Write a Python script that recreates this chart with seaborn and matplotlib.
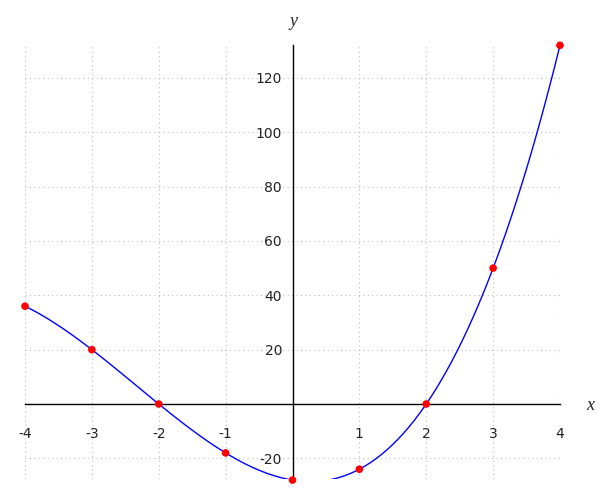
import matplotlib
matplotlib.use("Agg")
import matplotlib.pyplot as plt
import seaborn as sns
import pandas as pd

# data
x_vals = [-4, -3, -2, -1, 0, 1, 2, 3, 4]
y_vals = [36, 20, 0, -18, -28, -24, 0, 50, 132]
x_ticks = [-4, -3, -2, -1, 1, 2, 3, 4]
y_ticks = [-20, 20, 40, 60, 80, 100, 120]

df = pd.DataFrame({"x": x_vals, "y": y_vals})

sns.set_style("white")
plt.rcParams["font.family"] = ["DejaVu Sans"]

fig = plt.figure(figsize=(6, 5), dpi=100)
top_px, bot_px = 45.3, 479.0
ax = fig.add_axes([25 / 600, 1 - bot_px / 500, 535 / 600, (bot_px - top_px) / 500])

# grid
for xv in x_ticks:
    ax.axvline(xv, color="#bdbdbd", lw=0.8, ls=(0, (1, 3)), zorder=0)
for yv in y_ticks:
    ax.axhline(yv, color="#bdbdbd", lw=0.8, ls=(0, (1, 3)), zorder=0)

# fitted curve (exact cubic through the points) and points
sns.regplot(data=df, x="x", y="y", order=3, ci=None, scatter=False, truncate=True,
            line_kws={"color": "#0000ff", "lw": 1.0, "zorder": 2}, ax=ax)
sns.scatterplot(data=df, x="x", y="y", color="#ff0000", s=30, edgecolor="none",
                zorder=3, clip_on=False, ax=ax)

ax.set_xlim(-4, 4)
ax.set_ylim(-27.6, 132)

# spines through origin
for s in ["top", "right"]:
    ax.spines[s].set_visible(False)
ax.spines["left"].set_position(("data", 0))
ax.spines["bottom"].set_position(("data", 0))
for s in ["left", "bottom"]:
    ax.spines[s].set_color("black")
    ax.spines[s].set_linewidth(1.0)

ax.set_xticks(x_ticks)
ax.set_xticklabels([str(v) for v in x_ticks])
ax.set_yticks(y_ticks)
ax.set_yticklabels([str(v) for v in y_ticks])
ax.tick_params(axis="x", direction="out", length=5.5, width=1, pad=11,
               labelsize=10, colors="black")
ax.tick_params(axis="y", direction="out", length=5.5, width=1, pad=2,
               labelsize=10, colors="black")
ax.tick_params(axis="x", labelcolor="#222222")
ax.tick_params(axis="y", labelcolor="#222222")
ax.set_xlabel("")
ax.set_ylabel("")

fig.text(293 / 600, 1 - 22 / 500, "y", family="Liberation Serif", style="italic",
         fontsize=13, ha="center", va="center")
fig.text(590 / 600, 1 - 405 / 500, "x", family="Liberation Serif", style="italic",
         fontsize=13, ha="center", va="center")

fig.savefig("out.png", dpi=100)
